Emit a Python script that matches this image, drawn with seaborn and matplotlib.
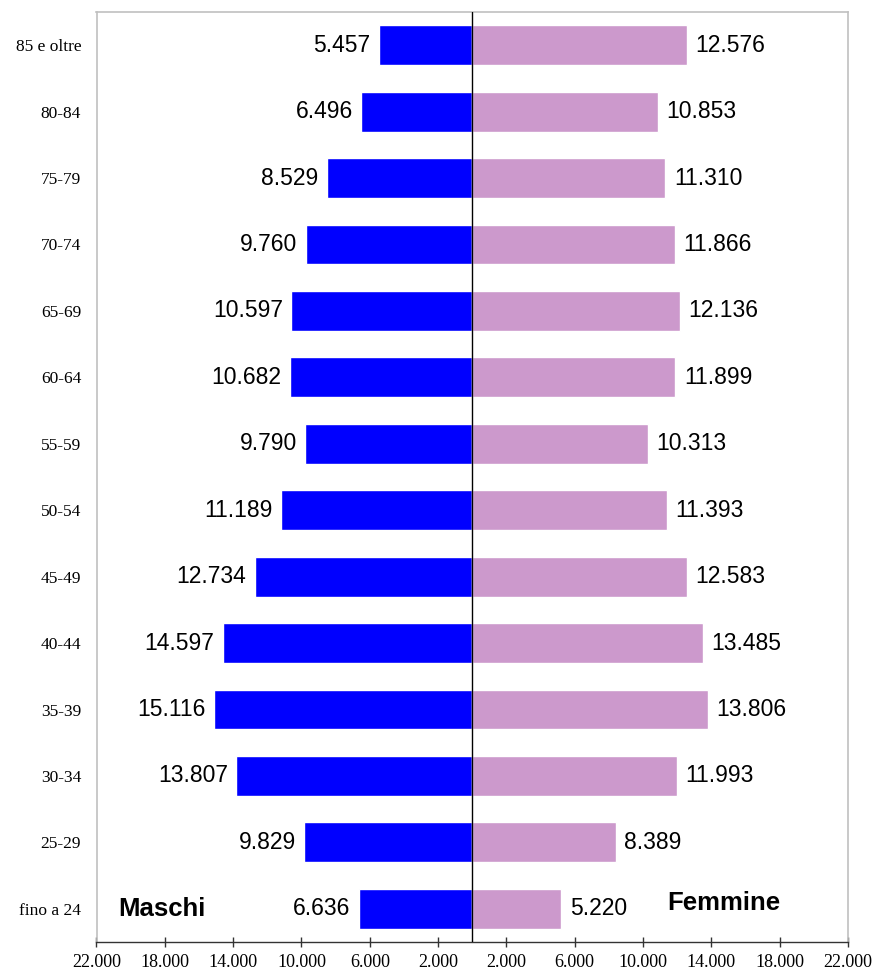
import matplotlib
matplotlib.use("Agg")
import matplotlib.pyplot as plt
import pandas as pd
import seaborn as sns

# classi di età, dall'alto verso il basso
CLASSI = ["85 e oltre", "80-84", "75-79", "70-74", "65-69", "60-64", "55-59",
          "50-54", "45-49", "40-44", "35-39", "30-34", "25-29", "fino a 24"]
MASCHI = [5457, 6496, 8529, 9760, 10597, 10682, 9790,
          11189, 12734, 14597, 15116, 13807, 9829, 6636]
FEMMINE = [12576, 10853, 11310, 11866, 12136, 11899, 10313,
           11393, 12583, 13485, 13806, 11993, 8389, 5220]
TICKS = [-22000, -18000, -14000, -10000, -6000, -2000,
         2000, 6000, 10000, 14000, 18000, 22000]

BLU = "#0000FF"
ROSA = "#CC99CC"


def formato(v):
    return f"{abs(v):,}".replace(",", ".")


sns.set_theme(style="white")
plt.rcParams["font.family"] = ["Liberation Sans", "DejaVu Sans"]
plt.rcParams["text.color"] = "black"
plt.rcParams["xtick.color"] = "black"
plt.rcParams["ytick.color"] = "black"

df = pd.DataFrame({"Classe": CLASSI, "Maschi": [-m for m in MASCHI], "Femmine": FEMMINE})

fig = plt.figure(figsize=(8.77, 9.73), dpi=100)
ax = fig.add_axes([96.5 / 877, 31 / 973, (848 - 96.5) / 877, (942 - 12) / 973])

sns.barplot(df, x="Maschi", y="Classe", orient="h", color=BLU, saturation=1,
            width=0.6, ax=ax)
sns.barplot(df, x="Femmine", y="Classe", orient="h", color=ROSA, saturation=1,
            width=0.6, ax=ax)

ax.set_xlim(-22000, 22000)
ax.set_ylim(len(CLASSI) - 0.5, -0.5)
ax.axvline(0, color="black", lw=1, zorder=5)

for i, (m, f) in enumerate(zip(MASCHI, FEMMINE)):
    ax.annotate(formato(m), (-m, i), xytext=(-6, 0), textcoords="offset points",
                ha="right", va="center", fontsize=16.5)
    ax.annotate(formato(f), (f, i), xytext=(6, 0), textcoords="offset points",
                ha="left", va="center", fontsize=16.5)

ax.text(-20750, len(CLASSI) - 1, "Maschi", ha="left", va="center",
        fontsize=18.5, fontweight="bold")
ax.text(11400, len(CLASSI) - 1.08, "Femmine", ha="left", va="center",
        fontsize=18.5, fontweight="bold")

ax.set_xticks(TICKS)
ax.set_xticklabels([formato(t) for t in TICKS], family="Liberation Serif", fontsize=13)
ax.set_yticks(range(len(CLASSI)))
ax.set_yticklabels(CLASSI, family="Liberation Serif", fontsize=12.5)
ax.tick_params(axis="x", direction="inout", length=7, width=1, color="#333333",
               pad=5, bottom=True)
ax.tick_params(axis="y", length=0, pad=11)
ax.set_xlabel("")
ax.set_ylabel("")

for lato in ["left", "top", "right"]:
    ax.spines[lato].set_color("#C0C0C0")
    ax.spines[lato].set_linewidth(1.2)
ax.spines["bottom"].set_color("#333333")
ax.spines["bottom"].set_linewidth(1)

fig.savefig("out.png", dpi=100)
